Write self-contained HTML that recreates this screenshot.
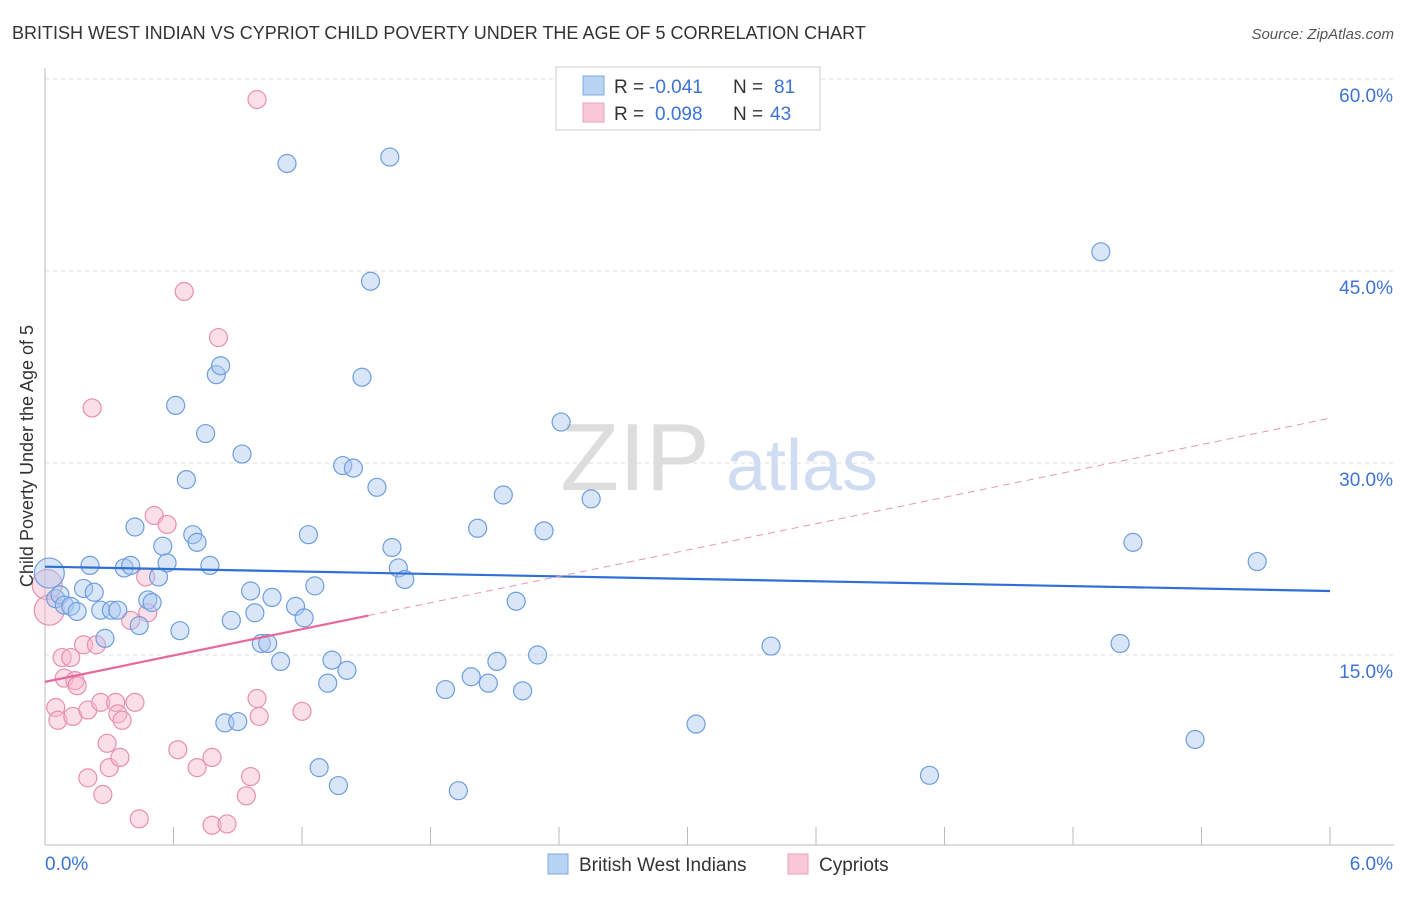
<!DOCTYPE html>
<html><head><meta charset="utf-8">
<style>
body{margin:0;background:#fff;font-family:"Liberation Sans",sans-serif;}
svg text{font-family:"Liberation Sans",sans-serif;}
</style></head>
<body>
<svg width="1406" height="892" viewBox="0 0 1406 892" xmlns="http://www.w3.org/2000/svg">
<text x="12" y="39" font-size="18" fill="#333">BRITISH WEST INDIAN VS CYPRIOT CHILD POVERTY UNDER THE AGE OF 5 CORRELATION CHART</text>
<text x="1394" y="39" font-size="15" fill="#555" text-anchor="end" font-style="italic">Source: ZipAtlas.com</text>
<g id="grid"></g>
<g>
<text x="635" y="490" font-size="96" fill="#ddd" font-family="Liberation Serif" text-anchor="middle">ZIP</text>
<text x="802" y="490" font-size="72" fill="#cfdcf2" text-anchor="middle">atlas</text>
</g>
<g id="axes"></g>
<g id="pinkpts"></g>
<g id="bluepts"></g>
<g id="trends"></g>
<text transform="translate(33,456) rotate(-90)" font-size="18" fill="#333" text-anchor="middle">Child Poverty Under the Age of 5</text>
<g>
<rect x="556" y="67" width="264" height="63" fill="#fff" stroke="#ccc"/>
<rect x="583" y="76" width="21" height="19" fill="#b9d3f5" stroke="#7fa9e3"/>
<rect x="583" y="103" width="21" height="19" fill="#f9c7d6" stroke="#eda0b9"/>
<text x="614" y="93" font-size="19" fill="#333">R =</text>
<text x="649" y="93" font-size="19" fill="#3b74d6">-0.041</text>
<text x="733" y="93" font-size="19" fill="#333">N =</text>
<text x="774" y="93" font-size="19" fill="#3b74d6">81</text>
<text x="614" y="120" font-size="19" fill="#333">R =</text>
<text x="655" y="120" font-size="19" fill="#3b74d6">0.098</text>
<text x="733" y="120" font-size="19" fill="#333">N =</text>
<text x="770" y="120" font-size="19" fill="#3b74d6">43</text>
</g>
<g>
<rect x="548" y="854" width="20" height="20" fill="#b9d3f5" stroke="#7fa9e3"/>
<text x="579" y="871" font-size="19" fill="#333">British West Indians</text>
<rect x="788" y="854" width="20" height="20" fill="#f9c7d6" stroke="#eda0b9"/>
<text x="819" y="871" font-size="19" fill="#333">Cypriots</text>
</g>
</svg>
<script>
const blueX=[0.02,0.05,0.07,0.09,0.12,0.15,0.18,0.21,0.23,0.26,0.28,0.31,0.34,0.37,0.40,0.42,0.44,0.48,0.50,0.53,0.55,0.57,0.61,0.63,0.66,0.69,0.71,0.75,0.77,0.80,0.82,0.84,0.87,0.90,0.92,0.96,0.98,1.01,1.04,1.06,1.10,1.13,1.17,1.21,1.23,1.26,1.28,1.32,1.34,1.37,1.39,1.41,1.44,1.48,1.52,1.55,1.61,1.62,1.65,1.68,1.87,1.93,1.99,2.02,2.07,2.11,2.14,2.20,2.23,2.30,2.33,2.41,2.55,3.04,3.39,4.13,4.93,5.02,5.08,5.37,5.66];
const blueY=[21.4,19.4,19.7,18.9,18.8,18.4,20.2,22.0,19.9,18.5,16.3,18.5,18.5,21.8,22.0,25.0,17.3,19.3,19.1,21.1,23.5,22.2,34.5,16.9,28.7,24.4,23.8,32.3,22.0,36.9,37.6,9.7,17.7,9.8,30.7,20.0,18.3,15.9,15.9,19.5,14.5,53.4,18.8,17.9,24.4,20.4,6.2,12.8,14.6,4.8,29.8,13.8,29.6,36.7,44.2,28.1,53.9,23.4,21.8,20.9,12.3,4.4,13.3,24.9,12.8,14.5,27.5,19.2,12.2,15.0,24.7,33.2,27.2,9.6,15.7,5.6,46.5,15.9,23.8,8.4,22.3];
const pinkX=[0.01,0.02,0.05,0.06,0.08,0.09,0.12,0.13,0.14,0.15,0.18,0.20,0.20,0.22,0.24,0.26,0.27,0.29,0.30,0.33,0.34,0.35,0.36,0.40,0.42,0.44,0.47,0.48,0.51,0.57,0.65,0.62,0.71,0.78,0.78,0.81,0.85,0.96,0.94,0.99,1.00,0.99,1.20];
const pinkY=[20.5,18.5,10.9,9.9,14.8,13.2,14.8,10.2,13.0,12.6,15.8,10.7,5.4,34.3,15.8,11.3,4.1,8.1,6.2,11.3,10.4,7.0,9.9,17.7,11.3,2.2,21.1,18.3,25.9,25.2,43.4,7.6,6.2,1.7,7.0,39.8,1.8,5.5,4.0,11.6,10.2,58.4,10.6];
const yTicks=[15,30,45,60];
const yTickLabels=["15.0%","30.0%","45.0%","60.0%"];
const xTicks=[0,0.6,1.2,1.8,2.4,3.0,3.6,4.2,4.8,5.4,6.0];
const blueTrend=[21.9,20.0];
const pinkTrend=[12.9,33.5];
const pinkSolidEnd=1.51;

const NS="http://www.w3.org/2000/svg";
const X=v=>45+v/6*1285;
const Y=v=>847-v/60*768;
function mk(tag,attrs,parent){const e=document.createElementNS(NS,tag);for(const k in attrs)e.setAttribute(k,attrs[k]);parent.appendChild(e);return e;}
const grid=document.getElementById('grid'),axes=document.getElementById('axes');
yTicks.forEach((t,i)=>{
  const g=mk('line',{x1:45,x2:1394,y1:Y(t),y2:Y(t),stroke:'#ddd','stroke-dasharray':'4,4'},grid);
  
  
  const l=mk('text',{x:1393,y:Y(t)+23,'font-size':19,fill:'#3b74d6','text-anchor':'end'},axes);
  l.textContent=yTickLabels[i];
  
  
});
const ax=mk('line',{x1:45,x2:1394,y1:845,y2:845,stroke:'#bbb'},axes);


const ay=mk('line',{x1:45,x2:45,y1:68,y2:845,stroke:'#bbb'},axes);


xTicks.forEach(t=>{
  const k=mk('line',{x1:X(t),x2:X(t),y1:827,y2:845,stroke:'#bbb'},axes);
  
  
});
const xl0=mk('text',{x:45,y:870,'font-size':19,fill:'#3b74d6'},axes);xl0.textContent="0.0%";


const xl1=mk('text',{x:1393,y:870,'font-size':19,fill:'#3b74d6','text-anchor':'end'},axes);xl1.textContent="6.0%";



function pts(xs,ys,g,fill,stroke){
  xs.forEach((x,i)=>{
    const r=i<(xs===pinkX?2:1)?15:9;
    const c=mk('circle',{cx:X(x),cy:Y(ys[i]),r:r,fill:fill,'fill-opacity':0.45,stroke:stroke,'stroke-width':1.2},g);
    
    
  });
}
pts(pinkX,pinkY,document.getElementById('pinkpts'),'#f7b9cd','#e98fae');
pts(blueX,blueY,document.getElementById('bluepts'),'#a9c7f0','#6e9ee0');
const tr=document.getElementById('trends');
const bl=mk('line',{x1:X(0),y1:Y(blueTrend[0]),x2:X(6),y2:Y(blueTrend[1]),stroke:'#2f6fd6','stroke-width':2.2},tr);


const pAt=x=>pinkTrend[0]+(pinkTrend[1]-pinkTrend[0])*x/6;
const pd=mk('line',{x1:X(pinkSolidEnd),y1:Y(pAt(pinkSolidEnd)),x2:X(6),y2:Y(pinkTrend[1]),stroke:'#e997b3','stroke-width':1,'stroke-dasharray':'7,5'},tr);


const ps=mk('line',{x1:X(0),y1:Y(pinkTrend[0]),x2:X(pinkSolidEnd),y2:Y(pAt(pinkSolidEnd)),stroke:'#e8689a','stroke-width':2.2},tr);


</script>
</body></html>
